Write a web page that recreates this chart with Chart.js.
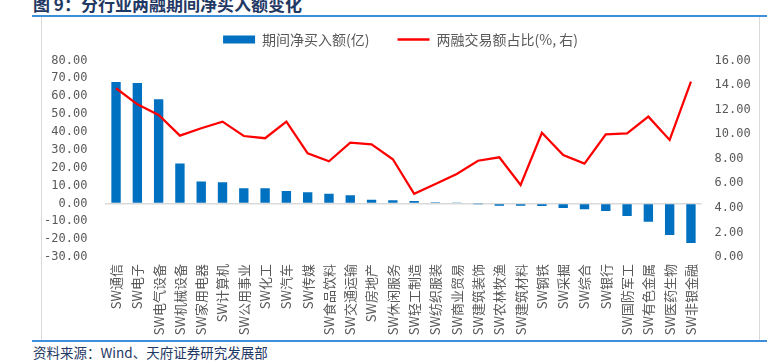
<!DOCTYPE html>
<html>
<head>
<meta charset="utf-8">
<script src="https://cdn.jsdelivr.net/npm/chart.js@4.4.0/dist/chart.umd.min.js"></script>
<style>
  html, body { margin: 0; padding: 0; background: #fff; }
  #wrap { position: relative; width: 767px; height: 361px; overflow: hidden; }
  #chart { position: absolute; left: 0; top: 0; }
  .title { position: absolute; left: 33px; top: -5px; font: bold 17px/17px "Noto Sans CJK SC"; color: #1F3864; white-space: nowrap; }
  .source { position: absolute; left: 33px; top: 346px; font: 13.5px/13.5px "Noto Sans CJK SC"; color: #1F3864; white-space: nowrap; }
  .rule { position: absolute; left: 32px; width: 735px; height: 2px; background: #3D8FDA; }
  .vline { position: absolute; top: 17px; width: 1px; height: 323px; background: #D9D9D9; }
</style>
</head>
<body>
<div id="wrap">
  <div class="title">图 9：分行业两融期间净买入额变化</div>
  <div class="rule" style="top:15px"></div>
  <div class="vline" style="left:41px"></div>
  <div class="vline" style="left:759px"></div>
  <div class="rule" style="top:340px"></div>
  <div class="source">资料来源：Wind、天府证券研究发展部</div>
  <canvas id="chart" width="767" height="361"></canvas>
</div>
<script>
const categories = ['SW通信', 'SW电子', 'SW电气设备', 'SW机械设备', 'SW家用电器', 'SW计算机', 'SW公用事业',
    'SW化工', 'SW汽车', 'SW传媒', 'SW食品饮料', 'SW交通运输', 'SW房地产', 'SW休闲服务', 'SW轻工制造',
    'SW纺织服装', 'SW商业贸易', 'SW建筑装饰', 'SW农林牧渔', 'SW建筑材料', 'SW钢铁', 'SW采掘', 'SW综合',
    'SW银行', 'SW国防军工', 'SW有色金属', 'SW医药生物', 'SW非银金融'];

// 期间净买入额 (亿), left axis
const netBuy = [68.0, 67.4, 58.3, 22.3, 12.3, 11.9, 8.5, 8.5, 6.9, 6.3, 5.4, 4.5, 2.0, 1.8, 1.3,
    0.6, 0.5, -0.2, -1.3, -1.3, -1.5, -2.6, -3.2, -4.3, -7.1, -10.3, -17.7, -22.2];

// 两融交易额占比 (%), right axis
const marginShare = [13.74, 12.43, 11.56, 9.88, 10.48, 11.02, 9.85, 9.67, 11.02, 8.44, 7.79, 9.31, 9.18, 7.96, 5.15,
    5.95, 6.76, 7.84, 8.12, 5.86, 10.12, 8.31, 7.60, 9.99, 10.07, 11.43, 9.53, 14.28];

const leftTicks = { min: -30, max: 80, step: 10 };
const rightTicks = { min: 0, max: 16, step: 2 };

const tickColor = '#595959';
const tickFont = { family: 'DejaVu Sans Mono', size: 12 };

// legend sits a little higher above the plot than Chart.js leaves by default
const legendGap = {
    id: 'legendGap',
    beforeInit(chart) {
        const fitLegend = chart.legend.fit;
        chart.legend.fit = function () {
            fitLegend.call(this);
            this.height += 4;
        };
    }
};

new Chart(document.getElementById('chart'), {
    type: 'bar',
    data: {
        labels: categories,
        datasets: [
            {
                label: '期间净买入额(亿)',
                data: netBuy,
                backgroundColor: '#0070C0',
                borderWidth: 0,
                yAxisID: 'y',
                order: 1,
                categoryPercentage: 0.44,
                barPercentage: 1
            },
            {
                type: 'line',
                label: '两融交易额占比(%, 右)',
                data: marginShare,
                borderColor: '#FF0000',
                backgroundColor: '#FF0000',
                borderWidth: 2.25,
                pointRadius: 0,
                tension: 0,
                yAxisID: 'y1',
                order: 0
            }
        ]
    },
    options: {
        responsive: false,
        animation: false,
        devicePixelRatio: 1,
        layout: {
            padding: { left: 42, right: 8, top: 4.5, bottom: 21 }
        },
        plugins: {
            tooltip: { enabled: false },
            legend: {
                position: 'top',
                labels: {
                    usePointStyle: true,
                    pointStyleWidth: 32,
                    boxHeight: 8,
                    padding: 28,
                    color: tickColor,
                    font: { family: 'Noto Sans CJK SC', size: 14 },
                    generateLabels: chart => chart.data.datasets.map((ds, i) => ({
                        text: ds.label,
                        fillStyle: ds.type === 'line' ? 'transparent' : ds.backgroundColor,
                        strokeStyle: ds.type === 'line' ? ds.borderColor : ds.backgroundColor,
                        lineWidth: ds.type === 'line' ? 2.5 : 0,
                        pointStyle: ds.type === 'line' ? 'line' : 'rect',
                        fontColor: tickColor,
                        datasetIndex: i,
                        hidden: false
                    }))
                }
            }
        },
        scales: {
            x: {
                grid: { display: false, drawTicks: false },
                border: { display: false },
                ticks: {
                    autoSkip: false,
                    minRotation: 90,
                    maxRotation: 90,
                    padding: 7,
                    color: tickColor,
                    font: { family: 'Noto Sans CJK SC', size: 13 }
                },
                afterFit: scale => { scale.height = 83; }
            },
            y: {
                position: 'left',
                min: leftTicks.min,
                max: leftTicks.max,
                ticks: {
                    stepSize: leftTicks.step,
                    padding: 18,
                    color: tickColor,
                    font: tickFont,
                    callback: v => v.toFixed(2)
                },
                grid: {
                    drawTicks: false,
                    lineWidth: 1.5,
                    color: c => (c.tick && c.tick.value === 0 ? '#D9D9D9' : 'transparent')
                },
                border: { display: false },
                afterFit: scale => { scale.width = 63.4; }
            },
            y1: {
                position: 'right',
                min: rightTicks.min,
                max: rightTicks.max,
                ticks: {
                    stepSize: rightTicks.step,
                    padding: 13,
                    color: tickColor,
                    font: tickFont,
                    callback: v => v.toFixed(2)
                },
                grid: { display: false, drawTicks: false },
                border: { display: false },
                afterFit: scale => { scale.width = 57.4; }
            }
        }
    },
    plugins: [legendGap]
});
</script>
</body>
</html>
